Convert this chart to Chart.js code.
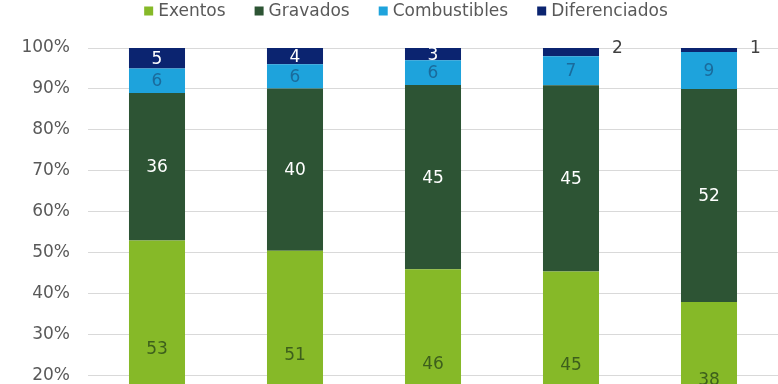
<!DOCTYPE html>
<html>
<head>
<meta charset="utf-8">
<script src="https://cdn.jsdelivr.net/npm/chart.js@4"></script>
<style>
  html, body { margin: 0; padding: 0; background: #fff; overflow: hidden; }
  #wrap { width: 778px; height: 384px; overflow: hidden; }
</style>
</head>
<body>
<div id="wrap"><canvas id="chart" width="778" height="486"></canvas></div>
<script>
// chart values (the category labels are cut off in the picture)
const categories = ["1", "2", "3", "4", "5"];
const exentos = [53, 51, 46, 45, 38];
const gravados = [36, 40, 45, 45, 52];
const combustibles = [6, 6, 6, 7, 9];
const diferenciados = [5, 4, 3, 2, 1];
const yTicks = [0, 10, 20, 30, 40, 50, 60, 70, 80, 90, 100];

const totals = categories.map((c, i) => exentos[i] + gravados[i] + combustibles[i] + diferenciados[i]);
function pct(arr){
    return arr.map((v, i) => v / totals[i] * 100);
}

function makeSet(name, raw, color, textColor){
    return {
        label: name,
        raw: raw,
        data: pct(raw),
        backgroundColor: color,
        textColor: textColor,
        barPercentage: 0.406,
        categoryPercentage: 1
    };
}

const FONT = '"DejaVu Sans"';

// numbers on the bars
const valueLabels = {
    id: "valueLabels",
    afterDatasetsDraw(chart){
        const ctx = chart.ctx;
        ctx.save();
        ctx.font = "17px " + FONT;
        ctx.textBaseline = "middle";
        chart.data.datasets.forEach(function(ds, i){
            chart.getDatasetMeta(i).data.forEach(function(bar, j){
                const v = ds.raw[j];
                if(v < 3){
                    ctx.fillStyle = "#404040";
                    ctx.textAlign = "left";
                    ctx.fillText(v, bar.x + bar.width / 2 + 13, bar.y + 1);
                }else{
                    ctx.fillStyle = ds.textColor;
                    ctx.textAlign = "center";
                    ctx.fillText(v, bar.x, (bar.y + bar.base) / 2 + 1);
                }
            });
        });
        ctx.restore();
    }
};

// legend drawn by hand so the spacing follows the original
const topLegend = {
    id: "topLegend",
    afterDraw(chart){
        const ctx = chart.ctx;
        const box = 9, gap = 5, space = 29, cy = 11, center = 406;
        ctx.save();
        ctx.font = "17px " + FONT;
        ctx.textBaseline = "middle";
        ctx.textAlign = "left";
        const items = chart.data.datasets.map(ds => ({
            text: ds.label, color: ds.backgroundColor, w: ctx.measureText(ds.label).width
        }));
        let total = 0;
        items.forEach(it => total += box + gap + it.w);
        total += space * (items.length - 1);
        let x = center - total / 2;
        items.forEach(function(it){
            ctx.fillStyle = it.color;
            ctx.fillRect(x, cy - box / 2, box, box);
            ctx.fillStyle = "#595959";
            ctx.fillText(it.text, x + box + gap, cy + 1);
            x += box + gap + it.w + space;
        });
        ctx.restore();
    }
};

new Chart(document.getElementById("chart"), {
    type: "bar",
    data: {
        labels: categories,
        datasets: [
            makeSet("Exentos", exentos, "#86b928", "#3d5f1c"),
            makeSet("Gravados", gravados, "#2d5434", "#ffffff"),
            makeSet("Combustibles", combustibles, "#1ea3dc", "#1a6b9c"),
            makeSet("Diferenciados", diferenciados, "#0b2470", "#ffffff")
        ]
    },
    options: {
        responsive: false,
        devicePixelRatio: 1,
        animation: false,
        layout: { padding: { left: 0, right: 0, top: 48, bottom: 0 } },
        plugins: {
            tooltip: { enabled: false },
            legend: { display: false }
        },
        scales: {
            x: {
                display: false,
                stacked: true
            },
            y: {
                stacked: true,
                min: 0,
                max: 100,
                afterBuildTicks(axis){
                    axis.ticks = yTicks.map(v => ({ value: v }));
                },
                afterFit(axis){
                    axis.width = 88;
                },
                grid: { color: "#d9d9d9", drawTicks: false },
                border: { display: false },
                ticks: {
                    padding: 18,
                    color: "#595959",
                    font: { family: "DejaVu Sans", size: 17 },
                    callback: v => v + "%"
                }
            }
        }
    },
    plugins: [valueLabels, topLegend]
});
</script>
</body>
</html>
